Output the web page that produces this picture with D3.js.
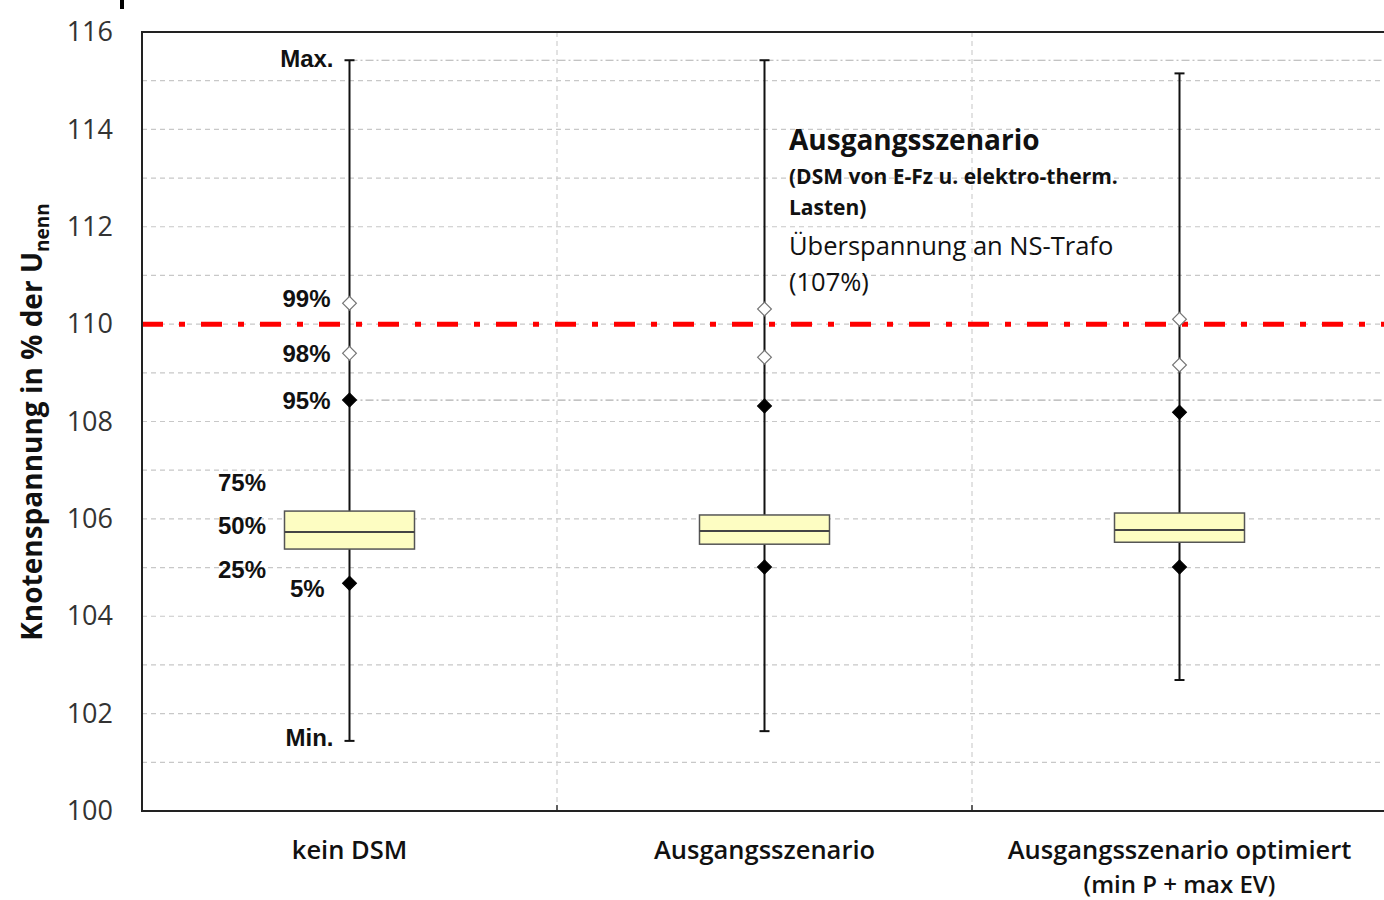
<!DOCTYPE html>
<html>
<head>
<meta charset="utf-8">
<script src="https://cdn.jsdelivr.net/npm/d3@7"></script>
<style>
  html, body { margin: 0; padding: 0; background: #fff; }
  svg { display: block; }
</style>
</head>
<body>
<svg id="chart" width="1384" height="900"></svg>
<script>
// ---- data ----
const categories = ["kein DSM", "Ausgangsszenario", "Ausgangsszenario optimiert"];
const categorySubLabels = ["", "", "(min P + max EV)"];
const minValues = [101.44, 101.64, 102.69];
const p5Values = [104.68, 105.01, 105.01];
const q1Values = [105.38, 105.48, 105.52];
const medianValues = [105.73, 105.75, 105.77];
const q3Values = [106.16, 106.08, 106.12];
const p95Values = [108.44, 108.32, 108.19];
const p98Values = [109.40, 109.32, 109.16];
const p99Values = [110.43, 110.31, 110.10];
const maxValues = [115.42, 115.42, 115.15];
const limitValue = 110;
const yTicks = [100, 102, 104, 106, 108, 110, 112, 114, 116];
const yGrid = d3.range(100, 117, 1);
const yDomain = [100, 116];
const annotationLines = [
  {text: "Ausgangsszenario", cls: "big"},
  {text: "(DSM von E-Fz u. elektro-therm.", cls: "small"},
  {text: "Lasten)", cls: "small"},
  {text: "Überspannung an NS-Trafo", cls: "reg"},
  {text: "(107%)", cls: "reg"}
];

// ---- layout ----
const svg = d3.select("#chart");
const pLeft = 142, pTop = 32, pBottom = 811, pRight = 1387;
const x = d3.scaleBand().domain(categories).range([pLeft, pRight]).padding(0);
const y = d3.scaleLinear().domain(yDomain).range([pBottom, pTop]);
const cx = c => x(c) + x.bandwidth() / 2;
const sansC = "'Open Sans', 'Noto Sans', sans-serif";
const sansA = "'Liberation Sans', Arial, sans-serif";

// small black mark top-left
svg.append("rect").attr("x", 120).attr("y", 0).attr("width", 4).attr("height", 9).attr("fill", "#000");

// horizontal grid
svg.append("g").selectAll("line").data(yGrid.filter(v => v > 100 && v < 116)).join("line")
  .attr("x1", pLeft).attr("x2", pRight)
  .attr("y1", d => y(d)).attr("y2", d => y(d))
  .attr("stroke", "#c8c8c8").attr("stroke-width", 1.2).attr("stroke-dasharray", "5,4");

// vertical category separators
const seps = categories.slice(1).map(c => x(c));
svg.append("g").selectAll("line").data(seps).join("line")
  .attr("x1", d => d).attr("x2", d => d).attr("y1", pTop).attr("y2", pBottom)
  .attr("stroke", "#cfcfcf").attr("stroke-width", 1.2).attr("stroke-dasharray", "5,4");
svg.append("g").selectAll("line").data(seps).join("line")
  .attr("x1", d => d).attr("x2", d => d).attr("y1", pBottom - 6).attr("y2", pBottom)
  .attr("stroke", "#333").attr("stroke-width", 1.5);

// reference lines from first category (max and 95%)
const c0 = cx(categories[0]);
[maxValues[0], p95Values[0]].forEach(v => {
  svg.append("line").attr("x1", c0).attr("x2", pRight)
    .attr("y1", y(v)).attr("y2", y(v))
    .attr("stroke", "#b0b0b0").attr("stroke-width", 1.2).attr("stroke-dasharray", "8,3,2,3");
});

// limit line
svg.append("line").attr("x1", pLeft).attr("x2", pRight)
  .attr("y1", y(limitValue)).attr("y2", y(limitValue))
  .attr("stroke", "#ff0000").attr("stroke-width", 5).attr("stroke-dasharray", "21,16,6,16");

// y axis
const yAxis = d3.axisLeft(y).tickValues(yTicks).tickSize(0).tickPadding(29).tickFormat(d3.format("d"));
const ga = svg.append("g").attr("transform", `translate(${pLeft},0)`).call(yAxis);
ga.select(".domain").remove();
ga.selectAll("text").attr("font-family", sansC).attr("font-size", 27).attr("fill", "#333");

// frame
svg.append("path").attr("d", `M${pRight},${pTop}H${pLeft}V${pBottom}H${pRight}`)
  .attr("fill", "none").attr("stroke", "#222").attr("stroke-width", 2);

// whiskers, boxes, markers
const boxW = 130, capW = 10;
const diamond = d3.symbol().type(d3.symbolSquare).size(95);
categories.forEach((c, i) => {
  const xc = cx(c);
  svg.append("line").attr("x1", xc).attr("x2", xc).attr("y1", y(minValues[i])).attr("y2", y(maxValues[i]))
    .attr("stroke", "#111").attr("stroke-width", 2);
  [minValues[i], maxValues[i]].forEach(v => {
    svg.append("line").attr("x1", xc - capW / 2).attr("x2", xc + capW / 2).attr("y1", y(v)).attr("y2", y(v))
      .attr("stroke", "#111").attr("stroke-width", 2);
  });
  svg.append("rect").attr("x", xc - boxW / 2).attr("y", y(q3Values[i]))
    .attr("width", boxW).attr("height", y(q1Values[i]) - y(q3Values[i]))
    .attr("fill", "#fdfdc2").attr("stroke", "#555").attr("stroke-width", 1.5);
  svg.append("line").attr("x1", xc - boxW / 2).attr("x2", xc + boxW / 2)
    .attr("y1", y(medianValues[i])).attr("y2", y(medianValues[i]))
    .attr("stroke", "#444").attr("stroke-width", 2);
  [[p99Values[i], false], [p98Values[i], false], [p95Values[i], true], [p5Values[i], true]].forEach(([v, filled]) => {
    svg.append("path").attr("d", diamond()).attr("transform", `translate(${xc},${y(v)}) rotate(45)`)
      .attr("fill", filled ? "#000" : "#fff").attr("stroke", filled ? "#000" : "#777").attr("stroke-width", 1.2);
  });
});

// percentile labels for first category
const lab = (txt, xx, v, anchor, dy) => svg.append("text").text(txt)
  .attr("x", xx).attr("y", y(v) + (dy || 0)).attr("dy", "0.35em").attr("text-anchor", anchor)
  .attr("font-family", sansA).attr("font-weight", "bold").attr("font-size", 24).attr("fill", "#111");
lab("Max.", c0 - 16, maxValues[0], "end", -2);
lab("Min.", c0 - 16, minValues[0], "end", -3);
lab("99%", c0 - 19, p99Values[0], "end", -5);
lab("98%", c0 - 19, p98Values[0], "end", 0);
lab("95%", c0 - 19, p95Values[0], "end", 1);
lab("75%", 218, q3Values[0], "start", -28);
lab("50%", 218, medianValues[0], "start", -6);
lab("25%", 218, q1Values[0], "start", 21);
lab("5%", 290, p5Values[0], "start", 5);

// category labels
categories.forEach((c, i) => {
  svg.append("text").text(c).attr("x", cx(c)).attr("y", 859).attr("text-anchor", "middle")
    .attr("font-family", sansC).attr("font-weight", 600).attr("font-size", 25.5).attr("fill", "#111");
  if (categorySubLabels[i]) svg.append("text").text(categorySubLabels[i]).attr("x", cx(c)).attr("y", 893)
    .attr("text-anchor", "middle").attr("font-family", sansC).attr("font-weight", 600).attr("font-size", 24).attr("fill", "#111");
});

// annotation
const annY = [150, 184, 215, 255, 291];
annotationLines.forEach((l, i) => {
  svg.append("text").text(l.text).attr("x", 789).attr("y", annY[i])
    .attr("font-family", sansC)
    .attr("font-weight", l.cls === "reg" ? 400 : 700)
    .attr("font-size", l.cls === "big" ? 28 : (l.cls === "small" ? 21 : 25.5))
    .attr("fill", "#111");
});

// y title
const yt = svg.append("text").attr("transform", "translate(42,422) rotate(-90)")
  .attr("text-anchor", "middle").attr("font-family", sansC).attr("font-weight", 700)
  .attr("font-size", 28).attr("fill", "#111");
yt.append("tspan").text("Knotenspannung in % der U");
yt.append("tspan").text("nenn").attr("font-size", 19).attr("dy", 7);
</script>
</body>
</html>
